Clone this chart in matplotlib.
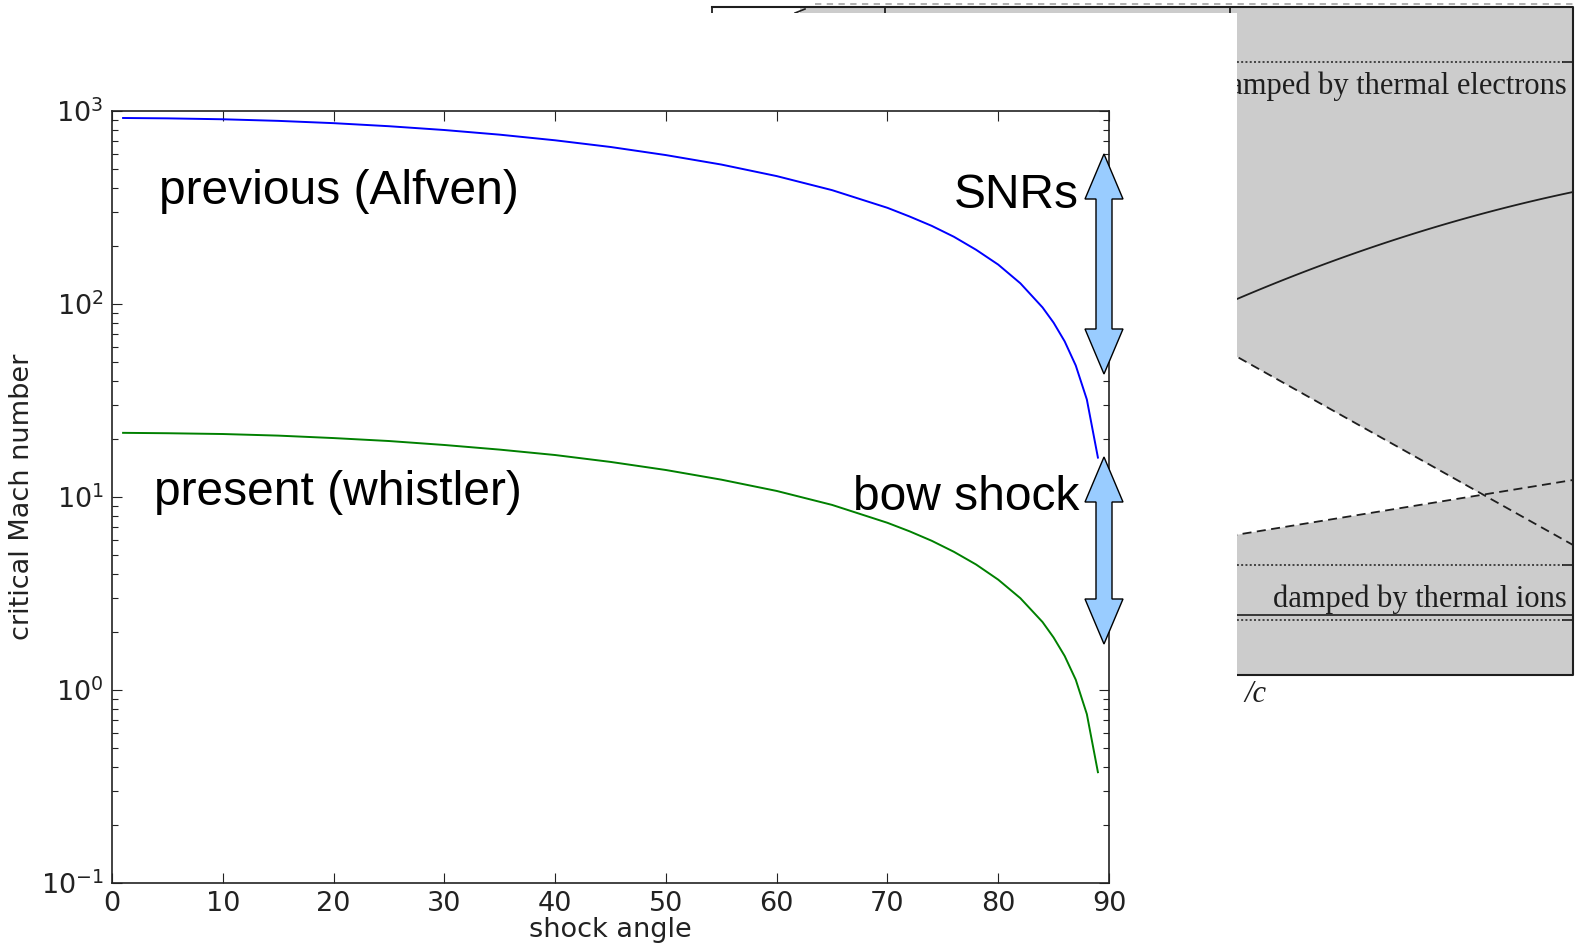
import matplotlib
matplotlib.use("Agg")
import matplotlib.pyplot as plt
from matplotlib.patches import Polygon, Rectangle
import numpy as np

plt.rcParams["axes.unicode_minus"] = False

# ---- data: critical Mach number against shock angle (degrees) ----
angles = [1, 5, 10, 15, 20, 25, 30, 35, 40, 45, 50, 55, 60, 65, 70,
          72, 74, 76, 78, 80, 82, 84, 85, 86, 87, 88, 89]
alfven_mach = [920, 916, 906, 889, 865, 834, 797, 754, 705, 651, 591, 528,
               460, 389, 315, 284, 254, 223, 191, 160, 128, 96, 80, 64, 48,
               32, 16]
whistler_mach = [21.5, 21.4, 21.2, 20.8, 20.2, 19.5, 18.6, 17.6, 16.5, 15.2,
                 13.8, 12.3, 10.75, 9.1, 7.35, 6.64, 5.93, 5.2, 4.47, 3.73,
                 2.99, 2.25, 1.87, 1.5, 1.13, 0.75, 0.375]
x_ticks = [0, 10, 20, 30, 40, 50, 60, 70, 80, 90]
y_limits = [0.1, 1000]

W, H = 1575, 943
fig = plt.figure(figsize=(W / 100, H / 100), dpi=100)
fig.patch.set_facecolor("white")

# ---- backdrop: the dispersion diagram peeking out behind the plot ----
bg = fig.add_axes([0, 0, 1, 1], zorder=0)
bg.set_xlim(0, W)
bg.set_ylim(H, 0)
bg.axis("off")

gray = "#cccccc"
ink = "#1e1e1e"
bg.add_patch(Rectangle((800, 7), 1573 - 800, 675 - 7, facecolor=gray,
                       edgecolor="none", zorder=1))
# unshaded wedge between the two dashed boundaries
bg.add_patch(Polygon([(1100, 280), (1483, 495), (1100, 557)], closed=True,
                     facecolor="white", edgecolor="none", zorder=2))
bg.plot([1100, 1573], [280, 545], ls=(0, (5, 3)), color=ink, lw=1.3,
        zorder=3)
bg.plot([1100, 1573], [557, 480], ls=(0, (5, 3)), color=ink, lw=1.3,
        zorder=3)
# solid dispersion curve
cx = np.array([1237, 1400, 1573])
cy = np.array([299, 238, 192])
coef = np.polyfit(cx, cy, 2)
xx = np.linspace(1100, 1573, 100)
bg.plot(xx, np.polyval(coef, xx), color=ink, lw=1.3, zorder=3)
# damping thresholds
for yy in (62, 565, 620):
    bg.plot([1100, 1563], [yy, yy], ls=(0, (1.3, 1.5)), color=ink,
            lw=1.1, zorder=3)
    bg.plot([1563, 1573], [yy, yy], color=ink, lw=1.2, zorder=3)
bg.plot([1100, 1573], [615, 615], color=ink, lw=1.2, zorder=3)
# frame
bg.plot([712, 1573, 1573, 700], [7, 7, 675, 675], color=ink, lw=1.5,
        zorder=4)
bg.plot([712, 712], [7, 60], color=ink, lw=1.3, zorder=4)
bg.plot([885, 885], [7, 60], color=ink, lw=1.3, zorder=4)
bg.plot([1230, 1230], [7, 60], color=ink, lw=1.3, zorder=4)
bg.plot([815, 1573], [4, 4], ls=(0, (3.5, 3)), color="#aaaaaa", lw=1.3,
        zorder=4)
bg.plot([795, 805], [13, 9], color=ink, lw=1.2, zorder=4)
bg.text(1567, 94, "damped by thermal electrons", ha="right", va="baseline",
        fontsize=22, family="Liberation Serif", color=ink, zorder=5)
bg.text(1567, 607, "damped by thermal ions", ha="right", va="baseline",
        fontsize=22, family="Liberation Serif", color=ink, zorder=5)
bg.text(1244, 702, "/c", ha="left", va="baseline", fontsize=22,
        family="Liberation Serif", style="italic", color=ink, zorder=5)
bg.text(1231, 702, ".", ha="left", va="baseline", fontsize=22,
        family="Liberation Serif", style="italic", color="#666666", zorder=5)
# white panel holding the Mach-number plot
bg.add_patch(Rectangle((0, 13), 1237, H - 13, facecolor="white",
                       edgecolor="none", zorder=10))

# ---- main plot ----
ax = fig.add_axes([112 / W, 1 - 883 / H, (1109 - 112) / W, (883 - 111) / H],
                  zorder=2)
ax.plot(angles, alfven_mach, color="#0000ff", lw=1.4)
ax.plot(angles, whistler_mach, color="#008000", lw=1.4)
ax.set_yscale("log")
ax.set_xlim(0, 90)
ax.set_ylim(*y_limits)
ax.set_xticks(x_ticks)
ax.tick_params(which="both", direction="in", top=True, right=True,
               labelsize=19.5, pad=6, colors="#222222")
ax.tick_params(which="major", length=7, width=0.8)
ax.tick_params(which="minor", length=4, width=0.8)
for s in ax.spines.values():
    s.set_linewidth(1.2)
    s.set_color("#222222")
ax.set_xlabel("shock angle", fontsize=19.5, color="#222222", labelpad=0)
ax.set_ylabel("critical Mach number", fontsize=19.5, color="#222222",
              labelpad=4)

# ---- annotations on top ----
ov = fig.add_axes([0, 0, 1, 1], zorder=3)
ov.set_xlim(0, W)
ov.set_ylim(H, 0)
ov.axis("off")
ov.patch.set_alpha(0)

font_kw = dict(fontsize=34.5, family="Liberation Sans", va="baseline",
               color="black")
ov.text(159, 204, "previous (Alfven)", ha="left", **font_kw)
ov.text(154, 505, "present (whistler)", ha="left", **font_kw)
ov.text(1079, 208, "SNRs", ha="right", **font_kw)
ov.text(1079, 510, "bow shock", ha="right", **font_kw)


def double_arrow(xc, y_top, y_bot, body=8, head=19, head_len=45):
    pts = [(xc, y_top), (xc + head, y_top + head_len),
           (xc + body, y_top + head_len), (xc + body, y_bot - head_len),
           (xc + head, y_bot - head_len), (xc, y_bot),
           (xc - head, y_bot - head_len), (xc - body, y_bot - head_len),
           (xc - body, y_top + head_len), (xc - head, y_top + head_len)]
    return Polygon(pts, closed=True, facecolor="#99ccff", edgecolor="black",
                   lw=1.0, joinstyle="miter")


ov.add_patch(double_arrow(1104, 154, 374))
ov.add_patch(double_arrow(1104, 457, 644))

fig.savefig("out.png", dpi=100, facecolor="white")
